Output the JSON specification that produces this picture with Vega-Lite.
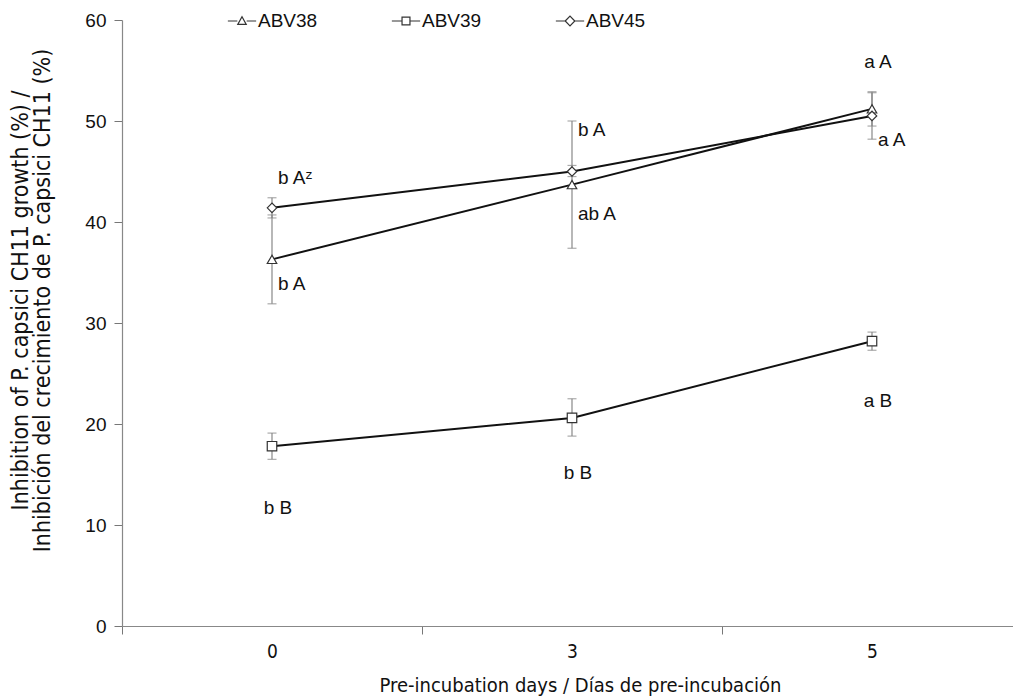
{
  "$schema": "https://vega.github.io/schema/vega-lite/v6.json",
  "width": 891,
  "height": 606,
  "autosize": {"type": "none"},
  "padding": {"left": 122, "top": 20, "right": 0, "bottom": 70},
  "background": "white",
  "config": {
    "view": {"stroke": null},
    "font": "Liberation Sans"
  },
  "datasets": {
    "pts": [
      {"day": "0", "series": "ABV38", "mean": 36.3, "lo": 31.9, "hi": 40.7},
      {"day": "3", "series": "ABV38", "mean": 43.7, "lo": 37.4, "hi": 50.0},
      {"day": "5", "series": "ABV38", "mean": 51.2, "lo": 49.5, "hi": 52.9},
      {"day": "0", "series": "ABV39", "mean": 17.8, "lo": 16.5, "hi": 19.1},
      {"day": "3", "series": "ABV39", "mean": 20.6, "lo": 18.8, "hi": 22.5},
      {"day": "5", "series": "ABV39", "mean": 28.2, "lo": 27.3, "hi": 29.1},
      {"day": "0", "series": "ABV45", "mean": 41.4, "lo": 40.4, "hi": 42.4},
      {"day": "3", "series": "ABV45", "mean": 45.0, "lo": 44.5, "hi": 45.6},
      {"day": "5", "series": "ABV45", "mean": 50.5, "lo": 48.2, "hi": 52.8}
    ],
    "labs": [
      {"day": "0", "series": "ABV45", "label": "b Aᶻ", "y": 44.4},
      {"day": "0", "series": "ABV38", "label": "b A", "y": 33.9},
      {"day": "3", "series": "ABV45", "label": "b A", "y": 49.1},
      {"day": "3", "series": "ABV38", "label": "ab A", "y": 40.8},
      {"day": "5", "series": "ABV38", "label": "a A", "y": 55.8},
      {"day": "5", "series": "ABV45", "label": "a A", "y": 48.1},
      {"day": "0", "series": "ABV39", "label": "b B", "y": 11.7},
      {"day": "3", "series": "ABV39", "label": "b B", "y": 15.1},
      {"day": "5", "series": "ABV39", "label": "a B", "y": 22.3}
    ]
  },
  "resolve": {"scale": {"shape": "independent"}, "legend": {"shape": "independent"}},
  "encoding": {
    "x": {
      "field": "day",
      "type": "ordinal",
      "sort": ["0", "3", "5"],
      "scale": {"domain": ["0", "3", "5"], "range": [0, 900], "paddingInner": 0, "paddingOuter": 0},
      "axis": {
        "title": "Pre-incubation days / Días de pre-incubación",
        "titleFont": "DejaVu Sans Condensed",
        "titleFontSize": 20,
        "titleFontWeight": "normal",
        "titleColor": "#111",
        "titlePadding": 14,
        "titleX": 458,
        "labelFont": "DejaVu Sans Condensed",
        "labelFontSize": 19,
        "labelColor": "#111",
        "labelAngle": 0,
        "labelPadding": 8,
        "tickBand": "extent",
        "tickSize": 8,
        "tickColor": "#777",
        "domainColor": "#888",
        "domainWidth": 1.2,
        "grid": false
      }
    }
  },
  "layer": [
    {
      "data": {"name": "pts"},
      "mark": {"type": "line", "color": "#111", "strokeWidth": 2},
      "encoding": {
        "y": {
          "field": "mean",
          "type": "quantitative",
          "scale": {"domain": [0, 60], "nice": false, "zero": true},
          "axis": {
            "title": ["Inhibition of P. capsici CH11 growth (%) /", "Inhibición del crecimiento de P. capsici CH11 (%)"],
            "titleFont": "DejaVu Sans Condensed",
            "titleFontSize": 23,
            "titleFontWeight": "normal",
            "titleColor": "#111",
            "titlePadding": 30,
            "titleY": 280,
            "titleLineHeight": 22,
            "values": [0, 10, 20, 30, 40, 50, 60],
            "labelFontSize": 19,
            "labelColor": "#111",
            "labelPadding": 8,
            "tickSize": 8,
            "tickColor": "#777",
            "domainColor": "#888",
            "domainWidth": 1.2,
            "grid": false
          }
        },
        "detail": {"field": "series"}
      }
    },
    {
      "data": {"name": "pts"},
      "mark": {"type": "rule", "color": "#888", "strokeWidth": 1.2},
      "encoding": {
        "y": {"field": "lo", "type": "quantitative"},
        "y2": {"field": "hi"}
      }
    },
    {
      "data": {"name": "pts"},
      "mark": {"type": "tick", "color": "#888", "size": 9, "thickness": 1.2, "orient": "horizontal"},
      "encoding": {
        "y": {"field": "lo", "type": "quantitative"}
      }
    },
    {
      "data": {"name": "pts"},
      "mark": {"type": "tick", "color": "#888", "size": 9, "thickness": 1.2, "orient": "horizontal"},
      "encoding": {
        "y": {"field": "hi", "type": "quantitative"}
      }
    },
    {
      "data": {"name": "pts"},
      "mark": {"type": "point", "filled": false, "fill": "white", "fillOpacity": 1, "stroke": "#333", "strokeWidth": 1.2, "size": 90, "opacity": 1},
      "encoding": {
        "y": {"field": "mean", "type": "quantitative"},
        "shape": {
          "field": "series",
          "type": "nominal",
          "scale": {"domain": ["ABV38", "ABV39", "ABV45"], "range": ["triangle-up", "square", "diamond"]},
          "legend": null
        }
      }
    },
    {
      "data": {"name": "pts"},
      "transform": [{"filter": "datum.mean < 0"}],
      "mark": {"type": "point", "color": "#333", "strokeWidth": 1.2, "size": 800},
      "encoding": {
        "y": {"field": "mean", "type": "quantitative"},
        "shape": {
          "field": "series",
          "type": "nominal",
          "scale": {
            "domain": ["ABV38", "ABV39", "ABV45"],
            "range": [
              "M-1,0L-0.33,0M0.33,0L1,0M-0.3,0.24L0.3,0.24L0,-0.3Z",
              "M-1,0L-0.28,0M0.28,0L1,0M-0.28,-0.28L0.28,-0.28L0.28,0.28L-0.28,0.28Z",
              "M-1,0L-0.34,0M0.34,0L1,0M-0.34,0L0,-0.34L0.34,0L0,0.34Z"
            ]
          },
          "legend": {
            "title": null,
            "orient": "none",
            "legendX": 105,
            "legendY": -14,
            "direction": "horizontal",
            "columns": 3,
            "columnPadding": 71,
            "symbolSize": 800,
            "symbolStrokeColor": "#333",
            "symbolStrokeWidth": 1.2,
            "symbolOpacity": 1,
            "labelFontSize": 19,
            "labelColor": "#111",
            "labelOffset": 1
          }
        }
      }
    },
    {
      "data": {"name": "labs"},
      "transform": [{"filter": "datum.series !== 'ABV39' && !(datum.series === 'ABV38' && datum.day === '5')"}],
      "mark": {"type": "text", "align": "left", "baseline": "middle", "dx": 6, "fontSize": 19, "color": "#111"},
      "encoding": {
        "y": {"field": "y", "type": "quantitative"},
        "text": {"field": "label"}
      }
    },
    {
      "data": {"name": "labs"},
      "transform": [{"filter": "datum.series === 'ABV39' || (datum.series === 'ABV38' && datum.day === '5')"}],
      "mark": {"type": "text", "align": "center", "baseline": "middle", "dx": 6, "fontSize": 19, "color": "#111"},
      "encoding": {
        "y": {"field": "y", "type": "quantitative"},
        "text": {"field": "label"}
      }
    }
  ]
}
